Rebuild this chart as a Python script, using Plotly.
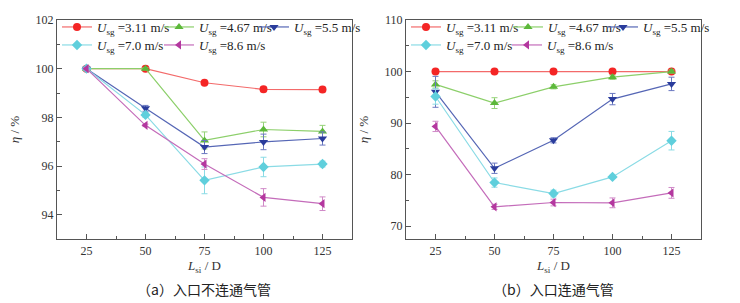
import plotly.graph_objects as go

x_vals = [25, 50, 75, 100, 125]
series_names = ["3.11", "4.67", "5.5", "7.0", "8.6"]

# (a) 入口不连通气管
a_311 = [100, 100, 99.42, 99.15, 99.14]
a_311_err = [0.05, 0.05, 0.05, 0.1, 0.1]
a_467 = [100, 100, 97.05, 97.5, 97.42]
a_467_err = [0.05, 0.05, 0.35, 0.3, 0.25]
a_55 = [100, 98.37, 96.78, 96.99, 97.13]
a_55_err = [0.05, 0.12, 0.27, 0.32, 0.27]
a_70 = [100, 98.1, 95.41, 95.96, 96.08]
a_70_err = [0.05, 0.1, 0.55, 0.4, 0.12]
a_86 = [100, 97.67, 96.08, 94.71, 94.45]
a_86_err = [0.05, 0.05, 0.22, 0.36, 0.28]

# (b) 入口连通气管
b_311 = [100, 100, 100, 100, 100]
b_311_err = [0.2, 0.2, 0.2, 0.2, 0.2]
b_467 = [97.5, 93.87, 97.03, 98.9, 100]
b_467_err = [0.7, 1.05, 0.4, 0.4, 0.3]
b_55 = [96.06, 81.23, 86.65, 94.65, 97.6]
b_55_err = [3.0, 1.0, 0.5, 1.1, 1.3]
b_70 = [95.16, 78.45, 76.32, 79.55, 86.58]
b_70_err = [1.5, 0.9, 0.65, 0.3, 1.8]
b_86 = [89.35, 73.74, 74.58, 74.52, 76.45]
b_86_err = [1.0, 0.5, 0.65, 0.95, 1.05]

marker_colors = ["#f42525", "#5cb83a", "#2a3c9c", "#5fcfdc", "#b4379f"]
line_colors = ["#f36a6a", "#8ccf6a", "#5566b5", "#8adbe5", "#c46cba"]
err_colors = ["#f07070", "#95d278", "#6a78c0", "#8adbe5", "#d08ac8"]
symbols = ["circle", "triangle-up", "triangle-down", "diamond", "triangle-left"]
sizes = [8, 8, 8, 8, 8]

SERIF = "Liberation Serif, Times New Roman, Times, serif"
W, H = 740, 303
def px_x(p):
    return p / W
def px_y(p):
    return 1 - p / H

# legend entry positions (left px of each entry, top px of each row)
leg_left_a = [57, 159, 254, 57, 159]
leg_left_b = [406, 508, 603, 406, 507]
leg_top = [12, 12, 12, 30, 30]

fig = go.Figure()

a_data = [(a_311, a_311_err), (a_467, a_467_err), (a_55, a_55_err), (a_70, a_70_err), (a_86, a_86_err)]
b_data = [(b_311, b_311_err), (b_467, b_467_err), (b_55, b_55_err), (b_70, b_70_err), (b_86, b_86_err)]

leg_common = dict(orientation="h", bgcolor="rgba(0,0,0,0)", borderwidth=0,
                  font=dict(family=SERIF, size=13, color="#222222"),
                  xanchor="left", yanchor="top", itemwidth=30, tracegroupgap=0)
legend_layout = {}
k = 0
for panel, data, xa, ya, lefts in [("a", a_data, "x", "y", leg_left_a),
                                   ("b", b_data, "x2", "y2", leg_left_b)]:
    for i, (vals, errs) in enumerate(data):
        k += 1
        lname = "legend" if k == 1 else "legend%d" % k
        legend_layout[lname] = dict(x=px_x(lefts[i]), y=px_y(leg_top[i]), **leg_common)
        fig.add_trace(go.Scatter(
            x=x_vals, y=vals,
            error_y=dict(type="data", array=errs, visible=True, color=err_colors[i],
                         thickness=1, width=3),
            mode="lines+markers",
            line=dict(color=line_colors[i], width=1.2),
            marker=dict(symbol=symbols[i], size=sizes[i], color=marker_colors[i],
                        line=dict(width=0)),
            name="<i>U</i><sub>sg</sub> =" + series_names[i] + " m/s",
            xaxis=xa, yaxis=ya,
            legend=lname,
        ))

axis_common = dict(
    showline=True, linecolor="#555555", linewidth=1.3, mirror=True,
    ticks="inside", ticklen=5, tickcolor="#555555", tickwidth=1,
    showgrid=False, zeroline=False, automargin=False,
    tickfont=dict(family=SERIF, size=12, color="#333333"),
)
xtitle = dict(text="<i>L</i><sub>si</sub> / D", font=dict(family=SERIF, size=13, color="#333333"), standoff=4)
ytitle = dict(text="<i>η</i> / %", font=dict(family=SERIF, size=13, color="#333333"), standoff=12)

ytop, ybot = px_y(20), px_y(239)

fig.update_layout(
    template="none",
    width=W, height=H,
    margin=dict(l=0, r=0, t=0, b=0, pad=0),
    paper_bgcolor="white", plot_bgcolor="white",
    xaxis=dict(domain=[px_x(57), px_x(352)], range=[12.5, 137.5], tick0=25, dtick=25,
               minor=dict(ticks="inside", ticklen=3, dtick=12.5, tick0=0, tickcolor="#555555"),
               anchor="y", title=xtitle, **axis_common),
    yaxis=dict(domain=[ybot, ytop], range=[93, 102], dtick=2, tick0=94,
               minor=dict(ticks="inside", ticklen=3, dtick=1, tickcolor="#555555"),
               anchor="x", title=ytitle, **axis_common),
    xaxis2=dict(domain=[px_x(406), px_x(701)], range=[12.5, 137.5], tick0=25, dtick=25,
                minor=dict(ticks="inside", ticklen=3, dtick=12.5, tick0=0, tickcolor="#555555"),
                anchor="y2", title=xtitle, **axis_common),
    yaxis2=dict(domain=[ybot, ytop], range=[67.5, 110], dtick=10, tick0=70,
                minor=dict(ticks="inside", ticklen=3, dtick=5, tickcolor="#555555"),
                anchor="x2", title=ytitle, **axis_common),
    showlegend=True,
    **legend_layout,
)

cap_font = dict(family="Noto Sans CJK SC", size=14, color="#222222")
fig.add_annotation(text="（a）入口不连通气管", x=px_x(204), y=px_y(289), xref="paper", yref="paper",
                   showarrow=False, font=cap_font, xanchor="center", yanchor="middle")
fig.add_annotation(text="（b）入口连通气管", x=px_x(553), y=px_y(289), xref="paper", yref="paper",
                   showarrow=False, font=cap_font, xanchor="center", yanchor="middle")

fig.write_html("out.html", config={"displayModeBar": False},
               post_script="document.body.style.margin='0px';")
